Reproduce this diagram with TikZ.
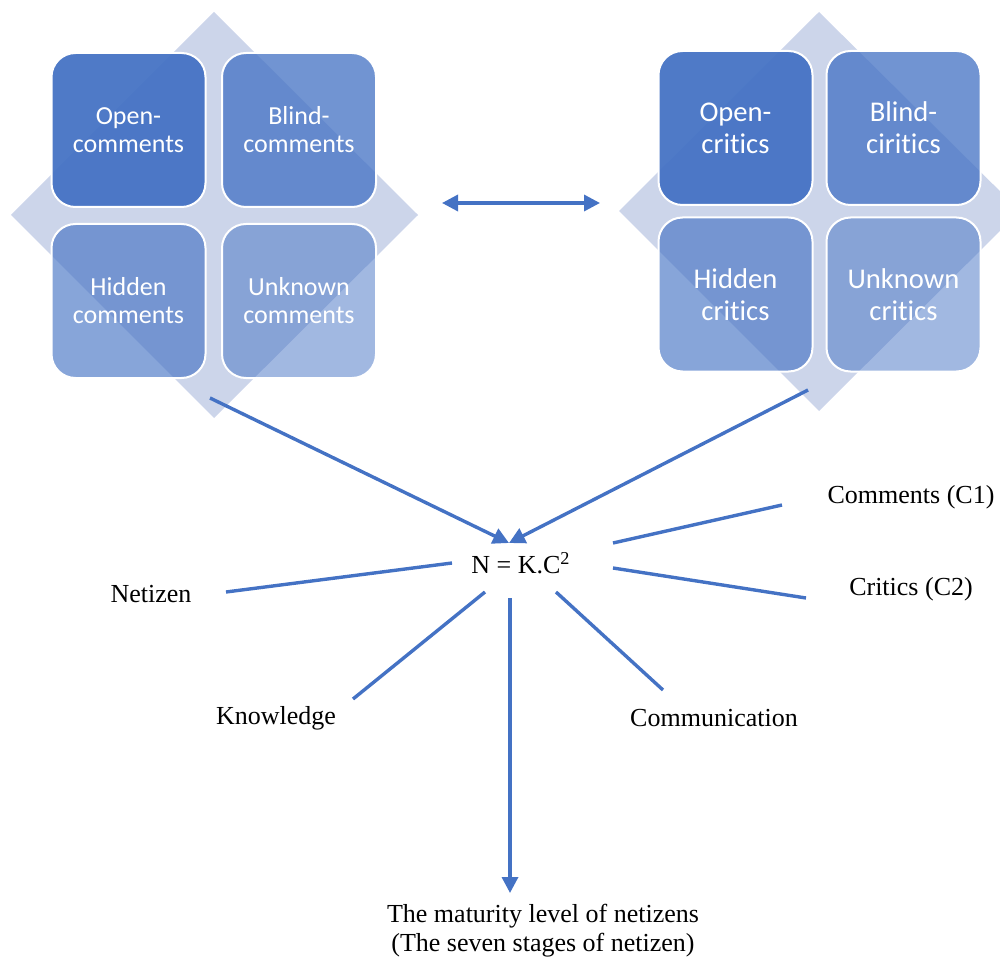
\documentclass[tikz,border=0pt]{standalone}
\usepackage{fontspec}
\setmainfont{Liberation Serif}
\newfontfamily\quadfont[Ligatures=NoCommon]{Carlito}
\usetikzlibrary{arrows.meta}
\definecolor{netblue}{HTML}{4472C4}
\definecolor{netpale}{HTML}{CCD5EA}

\begin{document}
\begin{tikzpicture}[
    x=0.5pt, y=-0.5pt,
    quad/.style={rectangle, rounded corners=12pt, draw=white, line width=1pt,
        fill=netblue, text opacity=1, minimum width=77pt, minimum height=77pt,
        align=center, text=white, font=\quadfont\fontsize{13}{14}\selectfont, inner sep=2pt},
    bigquad/.style={quad, font=\quadfont\fontsize{14.3}{16}\selectfont},
    lbl/.style={font=\fontsize{13}{14.5}\selectfont, align=center, inner sep=1pt},
    link/.style={netblue, line width=1.7pt},
    arr/.style={link, -{Triangle[length=8pt, width=8pt]}}
]
    \useasboundingbox (0,0) rectangle (1000,962);
    \clip (0,0) rectangle (1000,962);

    % backing diamonds
    \fill[netpale] (214,12) -- (418,215) -- (214,418) -- (11,215) -- cycle;
    \fill[netpale] (819,12) -- (1020,211) -- (819,411) -- (619,211) -- cycle;

    % comments window
    \node[quad, fill opacity=0.94] (oc) at (128.5,130) {Open-\\comments};
    \node[quad, fill opacity=0.76] (bc) at (299,130) {Blind-\\comments};
    \node[quad, fill opacity=0.64] (hc) at (128.5,301) {Hidden\\comments};
    \node[quad, fill opacity=0.50] (uc) at (299,301) {Unknown\\comments};

    % critics window
    \node[bigquad, fill opacity=0.94] (ok) at (735.5,128) {Open-\\critics};
    \node[bigquad, fill opacity=0.76] (bk) at (903.5,128) {Blind-\\ciritics};
    \node[bigquad, fill opacity=0.64] (hk) at (735.5,294.5) {Hidden\\critics};
    \node[bigquad, fill opacity=0.50] (uk) at (903.5,294.5) {Unknown\\critics};

    % formula and labels
    \node[lbl] (eq) at (521,563) {N = K.C\textsuperscript{2}};
    \node[lbl] (net) at (151,594) {Netizen};
    \node[lbl] (c1) at (911,497) {Comments (C1)};
    \node[lbl] (c2) at (911,589) {Critics (C2)};
    \node[lbl] (know) at (276,718) {Knowledge};
    \node[lbl] (comm) at (714,718) {Communication};
    \node[lbl] (lvl) at (543,931) {The maturity level of netizens\\(The seven stages of netizen)};

    % connector ends
    \coordinate (swap-l) at (442,203);
    \coordinate (swap-r) at (600,203);
    \coordinate (win-l) at (210,398);
    \coordinate (win-r) at (808,390);
    \coordinate (hub) at (509,543);
    \coordinate (net-a) at (452,563);  \coordinate (net-b) at (226,592);
    \coordinate (c1-a) at (613,543);   \coordinate (c1-b) at (782,505);
    \coordinate (c2-a) at (613,568);   \coordinate (c2-b) at (806,598);
    \coordinate (know-a) at (485,592); \coordinate (know-b) at (353,699);
    \coordinate (comm-a) at (556,592); \coordinate (comm-b) at (663,690);
    \coordinate (lvl-a) at (510,598);  \coordinate (lvl-b) at (510,893);

    \draw[link, {Triangle[length=8pt, width=8pt]}-{Triangle[length=8pt, width=8pt]}] (swap-l) -- (swap-r);
    \foreach \s in {win-l, win-r}
        \draw[arr] (\s) -- (hub);
    \foreach \s in {net, c1, c2, know, comm}
        \draw[link] (\s-a) -- (\s-b);
    \draw[arr] (lvl-a) -- (lvl-b);
\end{tikzpicture}
\end{document}
